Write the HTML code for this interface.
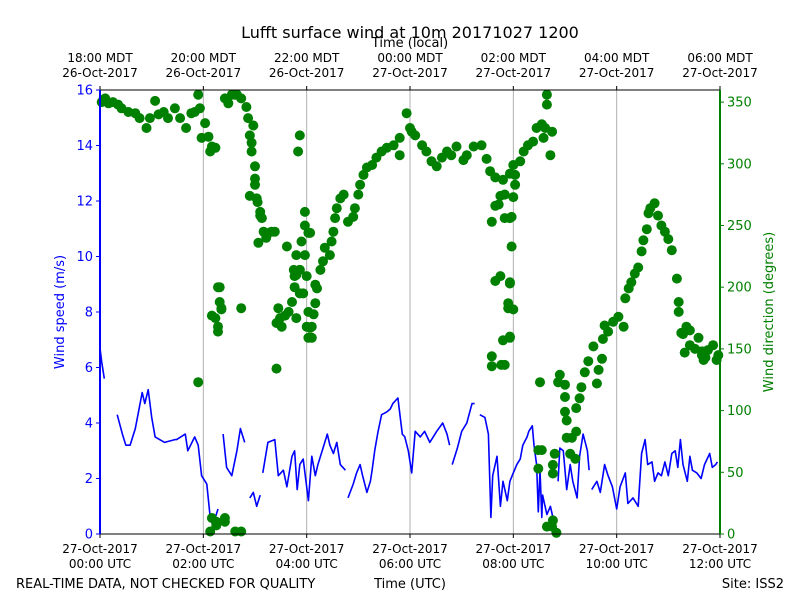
<!DOCTYPE html>
<html><head><meta charset="utf-8"><style>
body{margin:0;background:#fff;}
svg{display:block;font-family:"DejaVu Sans","Liberation Sans",sans-serif;}
</style></head><body>
<svg id="chart" width="800" height="600" viewBox="0 0 800 600" xmlns="http://www.w3.org/2000/svg">
<rect width="800" height="600" fill="#fff"/>
<g id="grid"></g>
<g id="series"></g>
<g id="axes"></g>
<text x="410" y="38" text-anchor="middle" font-size="16">Lufft surface wind at 10m 20171027 1200</text>
<text x="410" y="47" text-anchor="middle" font-size="13">Time (local)</text>
<text x="16" y="588" font-size="13">REAL-TIME DATA, NOT CHECKED FOR QUALITY</text>
<text x="410" y="588" text-anchor="middle" font-size="13">Time (UTC)</text>
<text x="784" y="588" text-anchor="end" font-size="13">Site: ISS2</text>
<text transform="translate(64,312) rotate(-90)" text-anchor="middle" font-size="13" fill="#0000ff">Wind speed (m/s)</text>
<text transform="translate(773,312) rotate(-90)" text-anchor="middle" font-size="13" fill="#008000">Wind direction (degrees)</text>
</svg>
<script>
// speed: minutes from 00 UTC, value m/s (null = gap)
const speedTimes=[0,2,5,6,9,11,15,18,20,26,30,35,41,49,52,56,60,64,75,87,89,99,102,110,114,118,124,128,131,137,140,143,147,153,159,163,168,171,174,178,182,186,187,189,195,203,207,213,217,223,226,229,232,236,242,246,250,253,258,264,267,271,275,279,285,286,288,294,298,302,305,310,314,316,319,323,327,333,337,340,346,351,354,358,362,366,372,377,383,391,398,403,406,407,409,415,420,426,432,435,437,441,447,451,454,456,461,465,468,473,476,480,484,488,491,496,498,502,504,507,509,511,513,514,519,523,526,530,531,532,534,538,542,546,549,554,557,561,566,568,569,571,577,581,586,590,595,600,604,610,613,619,625,629,633,636,641,644,648,652,656,660,664,668,671,674,677,682,685,688,693,698,702,708,711,715,717];
const speedVals=[6.7,6.2,5.6,null,5.2,null,5.7,null,4.3,3.6,3.2,3.2,3.8,5.1,4.7,5.2,4.2,3.5,3.3,3.4,3.4,3.6,3.0,3.5,3.2,2.1,1.8,0.6,0.3,0.9,null,3.6,2.4,2.1,3.0,3.8,3.3,null,1.3,1.5,1.0,1.4,null,2.2,3.3,3.4,2.1,2.3,1.7,2.8,3.0,1.6,2.5,2.7,1.2,2.8,2.1,2.5,3.0,3.6,3.2,2.9,3.3,2.5,2.3,null,1.3,1.8,2.2,2.5,2.1,1.5,1.9,2.3,3.0,3.7,4.3,4.4,4.5,4.7,4.9,3.6,3.5,3.0,2.2,3.7,3.5,3.7,3.3,3.7,4.0,3.6,3.2,null,2.5,3.1,3.7,4.0,4.7,4.7,null,4.3,4.2,3.6,0.6,2.1,2.8,1.0,1.9,1.2,1.9,2.2,2.5,2.7,3.2,3.5,3.7,3.9,3.2,2.5,0.8,2.3,0.6,1.4,0.7,1.0,0.6,0.1,null,1.9,3.1,3.0,1.6,2.5,1.9,1.3,2.8,3.6,3.0,2.3,null,1.6,1.9,1.5,2.5,2.1,1.7,0.9,1.7,2.2,1.1,1.3,1.0,2.9,3.4,2.5,2.6,1.9,2.2,2.1,2.6,2.1,2.9,3.0,2.4,3.4,2.5,1.9,2.8,2.3,2.2,2.0,2.5,2.9,2.4,2.5,2.6];
// direction: minutes, degrees
const dirTimes=[2,4,6,10,15,21,25,33,41,46,54,58,64,68,74,79,87,93,100,106,110,114,116,118,122,126,128,130,134,137,139,141,145,149,153,157,159,164,170,172,174,176,178,176,180,180,180,182,183,174,186,188,186,190,193,184,199,203,230,225,228,232,226,228,223,236,219,228,240,217,226,207,215,205,209,211,242,244,242,137,139,134,130,137,114,164,205,141,128,130,135,135,145,145,157,164,
232,238,238,242,244,234,238,232,240,232,250,252,250,248,246,246,256,259,261,267,269,271,273,275,279,283,288,294,296,300,302,306,310,316,321,327,333,341,348,348,356,360,362,366,374,379,385,391,397,403,408,414,422,426,434,443,449,453,459,463,459,465,470,468,476,480,455,476,465,459,476,474,476,468,455,455,466,480,
470,470,478,478,476,474,476,470,482,480,482,488,492,497,503,507,513,517,525,515,523,519,519,511,509,509,513,532,534,540,540,540,542,526,528,526,542,548,546,552,553,553,557,559,563,567,573,577,579,583,584,586,590,596,602,608,610,614,617,621,625,629,631,635,637,639,644,648,652,656,660,664,670,672,672,675,677,681,679,685,691,685,695,699,701,703,699,706,712,716,718,525,519,530,526];
const dirVals=[350,352,353,349,350,348,345,342,341,337,329,337,351,340,342,337,345,337,329,341,342,356,345,321,333,322,310,314,313,164,200,183,353,349,356,356,356,353,346,337,323,317,331,310,298,288,283,272,269,274,261,256,258,245,240,236,245,245,310,214,226,214,200,210,188,195,180,175,168,233,209,183,177,171,175,168,180,167,159,200,188,175,177,168,123,183,134,182,2,13,10,7,13,10,2,2,
323,261,250,244,244,237,226,214,209,195,202,199,187,178,168,159,214,221,232,226,237,245,256,264,272,275,253,257,264,275,283,291,297,299,305,310,313,315,321,307,341,329,326,323,315,310,302,298,305,310,307,314,303,307,314,315,304,294,289,267,266,274,275,287,292,299,253,256,209,205,204,187,159,157,144,136,137,182,
275,256,257,233,203,183,160,137,291,273,283,302,310,315,318,329,332,329,326,321,307,356,348,123,68,53,68,123,129,121,111,99,92,56,65,49,78,78,65,61,83,102,110,119,131,140,152,122,133,142,158,169,164,172,176,168,191,199,204,211,216,229,238,247,260,264,268,258,250,245,239,230,207,188,180,163,162,168,147,153,150,165,159,148,141,143,145,149,153,141,145,6,6,1,11];
const xTickLabelsUTC=[["27-Oct-2017","00:00 UTC"],["27-Oct-2017","02:00 UTC"],["27-Oct-2017","04:00 UTC"],["27-Oct-2017","06:00 UTC"],["27-Oct-2017","08:00 UTC"],["27-Oct-2017","10:00 UTC"],["27-Oct-2017","12:00 UTC"]];
const xTickLabelsLocal=[["18:00 MDT","26-Oct-2017"],["20:00 MDT","26-Oct-2017"],["22:00 MDT","26-Oct-2017"],["00:00 MDT","27-Oct-2017"],["02:00 MDT","27-Oct-2017"],["04:00 MDT","27-Oct-2017"],["06:00 MDT","27-Oct-2017"]];
const speedTicks=[0,2,4,6,8,10,12,14,16];
const dirTicks=[0,50,100,150,200,250,300,350];

const NS="http://www.w3.org/2000/svg";
const L=100,R=720,T=90,B=534;
const xS=m=>L+m*(R-L)/720;
const ySpd=v=>B-v*(B-T)/16;
const yDir=d=>B-d*1.234;
function mk(tag,attrs,parent){const e=document.createElementNS(NS,tag);for(const k in attrs)e.setAttribute(k,attrs[k]);parent.appendChild(e);return e;}
const grid=document.getElementById('grid'),series=document.getElementById('series'),axes=document.getElementById('axes');

// grid + x ticks
xTickLabelsUTC.forEach((lab,i)=>{
  const x=xS(i*120);
  if(i>0&&i<6){const g=mk('line',{x1:x,x2:x,y1:T,y2:B,stroke:'#b0b0b0','stroke-width':1},grid);
  
  }
  const tk=mk('line',{x1:x,x2:x,y1:B,y2:B+4,stroke:'#000'},axes);
  
  
  const t=mk('text',{x:x,y:553,'text-anchor':'middle','font-size':12},axes);
  
  
  t.innerHTML='<tspan x="'+x+'">'+lab[0]+'</tspan><tspan x="'+x+'" dy="15">'+lab[1]+'</tspan>';
  const tk2=mk('line',{x1:x,x2:x,y1:T,y2:T-4,stroke:'#000'},axes);
  
  
  const lt=xTickLabelsLocal[i];
  const t2=mk('text',{x:x,y:62,'text-anchor':'middle','font-size':12},axes);
  
  
  t2.innerHTML='<tspan x="'+x+'">'+lt[0]+'</tspan><tspan x="'+x+'" dy="15">'+lt[1]+'</tspan>';
});

// speed line
let d='',pen=false;
speedTimes.forEach((m,i)=>{const v=speedVals[i];if(v===null){pen=false;return;}d+=(pen?'L':'M')+xS(m).toFixed(1)+' '+ySpd(v).toFixed(1);pen=true;});
const sp=mk('path',{d:d,fill:'none',stroke:'#0000ff','stroke-width':1.6,'stroke-linejoin':'round'},series);



// direction dots
dirTimes.forEach((m,i)=>{
  const c=mk('circle',{cx:xS(m).toFixed(1),cy:yDir(dirVals[i]).toFixed(1),r:5,fill:'#008000'},series);
  
  
});

// frame
const tp=mk('line',{x1:L,x2:R,y1:T,y2:T,stroke:'#000'},axes);


const bt=mk('line',{x1:L,x2:R,y1:B,y2:B,stroke:'#000'},axes);


const ls=mk('line',{x1:L,x2:L,y1:T,y2:B,stroke:'#0000ff','stroke-width':2},axes);


const rs=mk('line',{x1:R,x2:R,y1:T,y2:B,stroke:'#008000','stroke-width':2},axes);



speedTicks.forEach(v=>{
  const y=ySpd(v);
  const tk=mk('line',{x1:L-4,x2:L,y1:y,y2:y,stroke:'#0000ff'},axes);
  
  
  const t=mk('text',{x:L-7,y:y+4.5,'text-anchor':'end','font-size':13,fill:'#0000ff'},axes);
  
  
  t.textContent=v;
});
dirTicks.forEach(v=>{
  const y=yDir(v);
  const tk=mk('line',{x1:R,x2:R+4,y1:y,y2:y,stroke:'#008000'},axes);
  
  
  const t=mk('text',{x:R+7,y:y+4.5,'text-anchor':'start','font-size':13,fill:'#008000'},axes);
  
  
  t.textContent=v;
});
</script>
</body></html>
